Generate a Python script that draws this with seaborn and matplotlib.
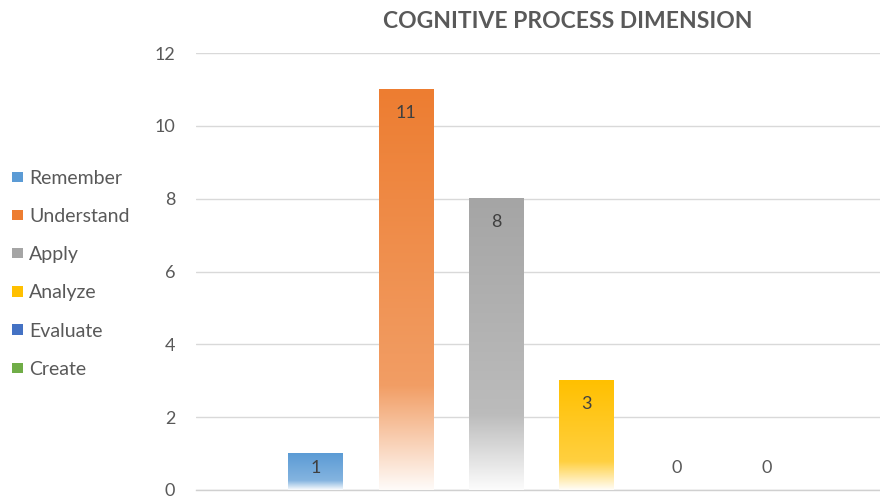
import numpy as np
import pandas as pd
import matplotlib
matplotlib.use("Agg")
import matplotlib.pyplot as plt
import seaborn as sns
from matplotlib.patches import Patch
from matplotlib.colors import to_rgb

categories = ["Remember", "Understand", "Apply", "Analyze", "Evaluate", "Create"]
values = [1, 11, 8, 3, 0, 0]
colors = ["#5B9BD5", "#ED7D31", "#A5A5A5", "#FFC000", "#4472C4", "#70AD47"]
yticks = [0, 2, 4, 6, 8, 10, 12]
title = "COGNITIVE PROCESS DIMENSION"

sns.set_theme(style="white")
plt.rcParams["font.family"] = ["Lato", "DejaVu Sans"]

df = pd.DataFrame({"category": categories, "value": values})

fig = plt.figure(figsize=(8.8, 4.97), dpi=100)
ax = fig.add_axes([196 / 880, 1 - 490 / 497, 1 - 196 / 880, (490 - 53) / 497])

sns.barplot(data=df, x="category", y="value", hue="category", order=categories,
            hue_order=categories, palette=colors, width=0.6, legend=False,
            ax=ax, zorder=3)

# gradient fill for each bar
def gradient(color, n=256):
    c = np.array(to_rgb(color))
    w = np.ones(3)
    t = np.linspace(0, 1, n)
    arr = np.zeros((n, 1, 4))
    for i, ti in enumerate(t):
        if ti < 0.74:
            f = 0.25 * ti / 0.74
        else:
            f = 0.25 + 0.72 * (ti - 0.74) / 0.26
        arr[i, 0, :3] = c * (1 - f) + w * f
        arr[i, 0, 3] = 1.0
    return arr

for patch, col in zip(ax.patches, colors):
    x0, w, h = patch.get_x(), patch.get_width(), patch.get_height()
    patch.set_visible(False)
    if h > 0:
        ax.imshow(gradient(col), extent=[x0, x0 + w, 0, h], origin="upper",
                  aspect="auto", zorder=3, interpolation="bilinear")

ax.set_xlim(-1.32, 6.25)
ax.set_ylim(0, 12)
ax.set_yticks(yticks)
ax.set_yticklabels([str(t) for t in yticks], fontsize=13, color="#595959")
ax.set_xticks([])
ax.set_xlabel("")
ax.set_ylabel("")
ax.tick_params(axis="y", length=0, pad=15)
ax.grid(axis="y", color="#D9D9D9", linewidth=1.0, zorder=0)
ax.set_axisbelow(True)
for s in ["top", "right", "left"]:
    ax.spines[s].set_visible(False)
ax.spines["bottom"].set_color("#D0D0D0")
ax.spines["bottom"].set_linewidth(1.0)

for i, v in enumerate(values):
    y = max(v - 0.65, 0.6)
    ax.text(i, y, str(v), ha="center", va="center", fontsize=13,
            color="#404040" if v > 0 else "#595959", zorder=5)

fig.text(568 / 880, 1 - 21 / 497, title, ha="center", va="center",
         fontsize=16.5, fontweight="bold", color="#595959")

handles = [Patch(facecolor=c, edgecolor="none") for c in colors]
leg = fig.legend(handles, categories, loc="upper left",
                 bbox_to_anchor=(4 / 880, 1 - 162 / 497), frameon=False,
                 fontsize=14, handlelength=0.6, handleheight=0.45,
                 handletextpad=0.3, labelspacing=1.09, borderaxespad=0)
for t in leg.get_texts():
    t.set_color("#595959")

fig.savefig("out.png", dpi=100)
